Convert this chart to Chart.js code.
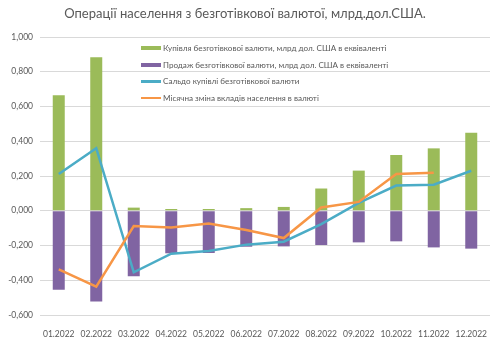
<!DOCTYPE html>
<html><head><meta charset="utf-8">
<script src="https://cdn.jsdelivr.net/npm/chart.js@4"></script>
<style>
html,body{margin:0;padding:0;background:#fff;}
#wrap{position:relative;width:500px;height:345px;}
#legend{position:absolute;left:141px;top:40px;font-family:Lato,"Open Sans",sans-serif;font-size:8.1px;color:#595959;}
.row{height:16.5px;display:flex;align-items:center;}
.sw{width:20px;margin-right:2px;}
</style></head>
<body><div id="wrap"><canvas id="c" width="500" height="345"></canvas>
<div id="legend"></div></div>
<script>
const categories = ["01.2022","02.2022","03.2022","04.2022","05.2022","06.2022","07.2022","08.2022","09.2022","10.2022","11.2022","12.2022"];
const purchases = [0.665,0.883,0.018,0.010,0.010,0.015,0.022,0.128,0.231,0.321,0.359,0.449];
const sales = [-0.454,-0.523,-0.377,-0.245,-0.243,-0.207,-0.205,-0.197,-0.182,-0.176,-0.211,-0.218];
const balance = [0.211,0.360,-0.354,-0.247,-0.232,-0.195,-0.178,-0.077,0.045,0.145,0.150,0.230];
const depositChange = [-0.337,-0.437,-0.088,-0.097,-0.073,-0.111,-0.157,0.019,0.051,0.212,0.218,null];
const seriesNames = [
 "Купівля безготівкової валюти, млрд дол. США в еквіваленті",
 "Продаж безготівкової валюти, млрд дол. США в еквіваленті",
 "Сальдо купівлі безготівкової валюти",
 "Місячна зміна вкладів населення в валюті"];
const title = "Операції населення з безготівкової валютої, млрд.дол.США.";
const colors = ["#9BBB59","#8064A2","#4BACC6","#F79646"];

const FONT = 'Lato, "Open Sans", sans-serif';
const chart = new Chart(document.getElementById('c'), {
 data: {
  labels: categories,
  datasets: [
   {type:'line',label:seriesNames[2],data:balance,borderColor:colors[2],backgroundColor:colors[2],borderWidth:2.5,pointRadius:0,stack:'l1',order:1,tension:0},
   {type:'line',label:seriesNames[3],data:depositChange,borderColor:colors[3],backgroundColor:colors[3],borderWidth:2.5,pointRadius:0,stack:'l2',order:0,tension:0},
   {type:'bar',label:seriesNames[0],data:purchases,backgroundColor:colors[0],stack:'b',order:2,categoryPercentage:0.8,barPercentage:0.4},
   {type:'bar',label:seriesNames[1],data:sales,backgroundColor:colors[1],stack:'b',order:2,categoryPercentage:0.8,barPercentage:0.4}
  ]
 },
 options: {
  responsive:false, animation:false,
  layout:{padding:{left:0,right:10,top:0,bottom:0}},
  plugins:{
   legend:{display:false},
   tooltip:{enabled:false},
   title:{display:true,text:title,color:'#595959',font:{family:FONT,size:13,weight:'normal',lineHeight:1.2},padding:{top:6,bottom:15.4}}
  },
  scales:{
   x:{stacked:true,grid:{display:false},border:{display:false},
      ticks:{color:'#595959',font:{family:FONT,size:8.5},padding:6,maxRotation:0,autoSkip:false},
      afterFit:(s)=>{s.height=30;}},
   y:{stacked:true,min:-0.6,max:1.0,
      grid:{color:'#D9D9D9',drawTicks:false},border:{display:false},
      ticks:{stepSize:0.2,color:'#595959',font:{family:FONT,size:8.5},padding:7,
        callback:(v)=>v.toFixed(3).replace('.',',')},
      afterFit:(s)=>{s.width=40;}}
  }
 }
});

const leg = document.getElementById('legend');
[0,1,2,3].forEach(i=>{
 const r=document.createElement('div'); r.className='row';
 const sw=document.createElement('span'); sw.className='sw';
 sw.style.height = i<2 ? '4px' : '2.5px';
 sw.style.background = colors[i];
 const t=document.createElement('span'); t.textContent=seriesNames[i];
 r.appendChild(sw); r.appendChild(t); leg.appendChild(r);
});
</script></body></html>
